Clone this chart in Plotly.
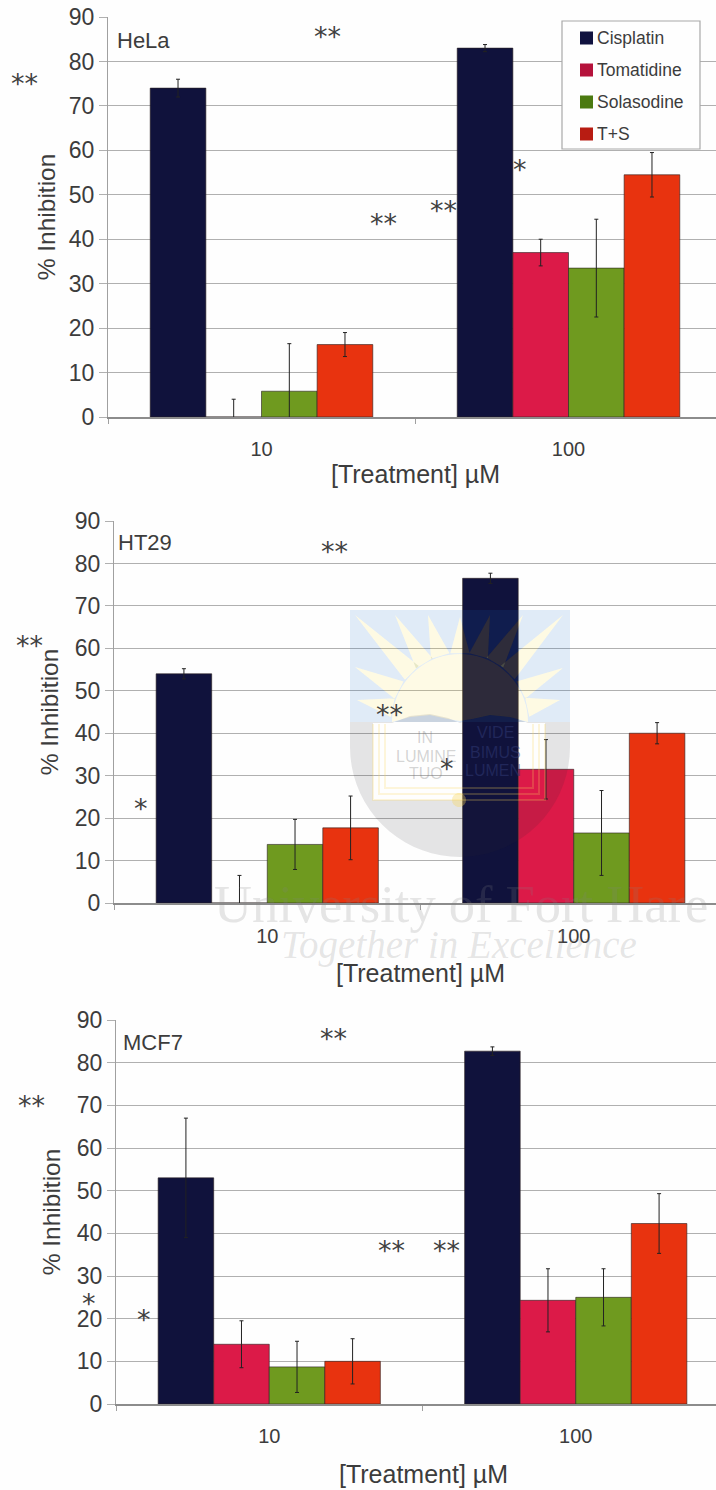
import math
import plotly.graph_objects as go

W, H = 716, 1490

concentrations = ["10", "100"]
treatments = ["Cisplatin", "Tomatidine", "Solasodine", "T+S"]

hela_cisplatin = [74, 83]
hela_tomatidine = [0, 37]
hela_solasodine = [5.8, 33.5]
hela_ts = [16.3, 54.5]
hela_cisplatin_err = [2, 0.8]
hela_tomatidine_err = [4, 3]
hela_solasodine_err = [10.7, 11]
hela_ts_err = [2.7, 5]

ht29_cisplatin = [54, 76.5]
ht29_tomatidine = [0, 31.5]
ht29_solasodine = [13.8, 16.5]
ht29_ts = [17.7, 40]
ht29_cisplatin_err = [1.2, 1.2]
ht29_tomatidine_err = [6.5, 7]
ht29_solasodine_err = [5.9, 10]
ht29_ts_err = [7.5, 2.5]

mcf7_cisplatin = [53, 82.7]
mcf7_tomatidine = [14, 24.3]
mcf7_solasodine = [8.7, 25]
mcf7_ts = [10, 42.3]
mcf7_cisplatin_err = [14, 1]
mcf7_tomatidine_err = [5.5, 7.4]
mcf7_solasodine_err = [6, 6.7]
mcf7_ts_err = [5.3, 7]

y_ticks = [0, 10, 20, 30, 40, 50, 60, 70, 80, 90]

bar_colors = ["#10123c", "#dc1a48", "#6f9a1f", "#e8330f"]
legend_colors = ["#10123f", "#b5123b", "#4b7a10", "#b81c12"]
TEXT = "#3c3c3c"
SANS = "Liberation Sans"


def px(x):
    return x / W


def py(y):
    return 1 - y / H


panels = [
    dict(name="HeLa", left=108, top=17, bottom=417, lab=(115, 41), xt=(415, 474), xs=13, ys=6,
         vals=[hela_cisplatin, hela_tomatidine, hela_solasodine, hela_ts],
         errs=[hela_cisplatin_err, hela_tomatidine_err, hela_solasodine_err, hela_ts_err]),
    dict(name="HT29", left=114, top=521, bottom=903, lab=(116, 542), xt=(420, 973), xs=14, ys=9,
         vals=[ht29_cisplatin, ht29_tomatidine, ht29_solasodine, ht29_ts],
         errs=[ht29_cisplatin_err, ht29_tomatidine_err, ht29_solasodine_err, ht29_ts_err]),
    dict(name="MCF7", left=116, top=1020, bottom=1404, lab=(121, 1042), xt=(423, 1474), xs=13, ys=9,
         vals=[mcf7_cisplatin, mcf7_tomatidine, mcf7_solasodine, mcf7_ts],
         errs=[mcf7_cisplatin_err, mcf7_tomatidine_err, mcf7_solasodine_err, mcf7_ts_err]),
]

fig = go.Figure()
layout = {}
annotations = []
shapes = []

for i, p in enumerate(panels):
    sfx = "" if i == 0 else str(i + 1)
    for name, vals, errs, col in zip(treatments, p["vals"], p["errs"], bar_colors):
        fig.add_trace(go.Bar(
            x=concentrations, y=vals, name=name, xaxis="x" + sfx, yaxis="y" + sfx,
            marker=dict(color=col, line=dict(color="rgba(40,30,30,0.75)", width=0.8)),
            error_y=dict(type="data", array=errs, visible=True, color="#222222",
                         thickness=1, width=2),
            showlegend=False,
        ))
    cat_w = 307 if i == 0 else 306.5
    layout["xaxis" + sfx] = dict(
        domain=[px(p["left"]), 1], anchor="y" + sfx, type="category", automargin=False,
        range=[-0.5, -0.5 + (W - p["left"]) / cat_w],
        categoryorder="array", categoryarray=concentrations,
        showline=True, linecolor="#8c8c8c", linewidth=1.5, showgrid=False, zeroline=False,
        ticks="outside", tickson="boundaries", ticklen=5, tickcolor="#a0a0a0",
        ticklabelstandoff=p["xs"],
        tickfont=dict(family=SANS, size=20, color=TEXT),
    )
    layout["yaxis" + sfx] = dict(
        domain=[py(p["bottom"]), py(p["top"])], anchor="x" + sfx, range=[0, 90], automargin=False,
        tickvals=y_ticks, showline=True, linecolor="#a0a0a0", linewidth=1.2,
        showgrid=True, gridcolor="#b0b0b0", gridwidth=1.4, zeroline=False,
        ticks="outside", ticklen=8, tickcolor="#b0b0b0",
        tickfont=dict(family=SANS, size=23, color=TEXT),
        title=dict(text="% Inhibition", font=dict(family=SANS, size=24.5, color=TEXT), standoff=p["ys"]),
    )
    annotations.append(dict(text=p["name"], x=px(p["lab"][0]), y=py(p["lab"][1]), xref="paper", yref="paper",
                            xanchor="left", yanchor="middle", showarrow=False,
                            font=dict(family=SANS, size=22, color=TEXT)))
    annotations.append(dict(text="[Treatment] µM", x=px(p["xt"][0]), y=py(p["xt"][1]), xref="paper", yref="paper",
                            xanchor="center", yanchor="middle", showarrow=False,
                            font=dict(family=SANS, size=25, color=TEXT)))

# significance stars
stars = [("**", 327, 32), ("**", 24, 79), ("**", 383, 219), ("**", 443, 205), ("*", 520, 165),
         ("**", 334, 546), ("**", 30, 640), ("**", 390, 709), ("*", 141, 803), ("*", 447, 763),
         ("**", 333, 1033), ("**", 31, 1100), ("**", 391, 1245), ("**", 446, 1245),
         ("*", 144, 1314), ("*", 89, 1298)]
for t, x, y in stars:
    annotations.append(dict(text=t, x=px(x), y=py(y + 5), xref="paper", yref="paper",
                            xanchor="center", yanchor="middle", showarrow=False,
                            font=dict(family="DejaVu Sans", size=27, color="#404040")))


def poly(points):
    return "M" + "L".join(f"{px(a):.5f},{py(b):.5f}" for a, b in points) + "Z"


def shape_path(path, fill, line=None, lw=0, rule=None):
    s = dict(type="path", path=path, xref="paper", yref="paper", fillcolor=fill,
             line=dict(color=line or "rgba(0,0,0,0)", width=lw), layer="above")
    if rule:
        s["fillrule"] = rule
    return s


# watermark crest
cx, cyc, r = 460, 747, 110
lower = [(350, 722), (570, 722), (570, 747)]
lower += [(cx + r * math.cos(math.radians(a)), cyc + r * math.sin(math.radians(a))) for a in range(0, 181, 5)]
book = [(373, 723), (392, 723), (410, 716), (430, 714), (448, 718), (460, 723), (472, 718), (490, 714),
        (510, 716), (528, 723), (545, 723), (545, 800), (373, 800)]
sx, sy, sr = 460, 722, 68
tips = [(355, 615), (395, 615), (428, 615), (460, 617), (490, 615), (523, 615), (563, 615),
        (355, 667), (357, 700), (563, 668), (560, 700)]
rays = []
for tx, ty in tips:
    ang = math.atan2(ty - sy, tx - sx)
    d = math.radians(8)
    a = (sx + (sr + 1.5) * math.cos(ang - d), sy + (sr + 1.5) * math.sin(ang - d))
    b = (sx + (sr + 1.5) * math.cos(ang + d), sy + (sr + 1.5) * math.sin(ang + d))
    rays.append([a, (tx, ty), b])
disc = [(sx + sr * math.cos(math.radians(a)), sy + sr * math.sin(math.radians(a))) for a in range(180, 361, 5)]
disc += [(510, 717), (490, 715), (472, 719), (460, 721), (448, 719), (430, 715), (410, 717)]
blue_path = poly([(350, 610), (570, 610), (570, 722), (350, 722)]) + "".join(poly(q) for q in rays) + poly(disc)
shapes.append(shape_path(blue_path, "rgba(27,107,200,0.13)", rule="evenodd"))
shapes.append(shape_path(poly(lower) + poly(book), "rgba(40,40,50,0.12)", rule="evenodd"))
for q in rays:
    shapes.append(shape_path(poly(q), "rgba(255,225,48,0.13)"))
shapes.append(shape_path(poly(disc), "rgba(255,225,48,0.12)"))
for inset in (0, 6, 12):
    frame = [(373 + inset, 724), (373 + inset, 800 - inset), (545 - inset, 800 - inset), (545 - inset, 724)]
    shapes.append(dict(type="path", xref="paper", yref="paper", layer="above",
                       path="M" + "L".join(f"{px(a):.5f},{py(b):.5f}" for a, b in frame),
                       line=dict(color="rgba(250,215,90,0.22)", width=2)))
knob = [(459 + 7 * math.cos(math.radians(a)), 800 + 7 * math.sin(math.radians(a))) for a in range(0, 360, 20)]
shapes.append(shape_path(poly(knob), "rgba(250,215,90,0.35)"))

crest_words = [("IN", 425, 737, "rgba(110,110,110,0.3)"), ("LUMINE", 426, 756, "rgba(110,110,110,0.3)"),
               ("TUO", 426, 773, "rgba(110,110,110,0.3)"), ("VIDE", 495, 732, "rgba(50,60,120,0.5)"),
               ("BIMUS", 495, 752, "rgba(50,60,120,0.5)"), ("LUMEN", 493, 770, "rgba(50,60,120,0.5)")]
for t, x, y, c in crest_words:
    annotations.append(dict(text=t, x=px(x), y=py(y), xref="paper", yref="paper", showarrow=False,
                            xanchor="center", yanchor="middle",
                            font=dict(family="Liberation Sans Narrow, Liberation Sans", size=16, color=c)))
annotations.append(dict(text="University of Fort Hare", x=px(461), y=py(904), xref="paper", yref="paper",
                        showarrow=False, xanchor="center", yanchor="middle",
                        font=dict(family="Liberation Serif", size=52.5, color="rgba(130,130,130,0.2)")))
annotations.append(dict(text="<i>Together in Excellence</i>", x=px(459), y=py(945), xref="paper", yref="paper",
                        showarrow=False, xanchor="center", yanchor="middle",
                        font=dict(family="Liberation Serif", size=39, color="rgba(130,130,130,0.2)")))

# legend box
shapes.append(dict(type="rect", xref="paper", yref="paper", x0=px(562), x1=px(700), y0=py(149), y1=py(21),
                   fillcolor="#fefefe", line=dict(color="#a8a8a8", width=1.2), layer="above"))
for name, col, yc in zip(treatments, legend_colors, (38, 70, 102, 134)):
    shapes.append(dict(type="rect", xref="paper", yref="paper", x0=px(580), x1=px(593), y0=py(yc + 6.5),
                       y1=py(yc - 6.5), fillcolor=col, line=dict(width=0), layer="above"))
    annotations.append(dict(text=name, x=px(595), y=py(yc), xref="paper", yref="paper", showarrow=False,
                            xanchor="left", yanchor="middle", font=dict(family=SANS, size=17.5, color=TEXT)))

fig.update_layout(
    width=W, height=H, margin=dict(l=0, r=0, t=0, b=0), autosize=False,
    paper_bgcolor="#fefefe", plot_bgcolor="#fefefe",
    barmode="group", bargap=0.275, bargroupgap=0,
    showlegend=False, annotations=annotations, shapes=shapes, **layout,
)
fig.write_html("out.html", config=dict(displayModeBar=False),
               post_script="document.body.style.margin='0';document.body.style.overflow='hidden';")
